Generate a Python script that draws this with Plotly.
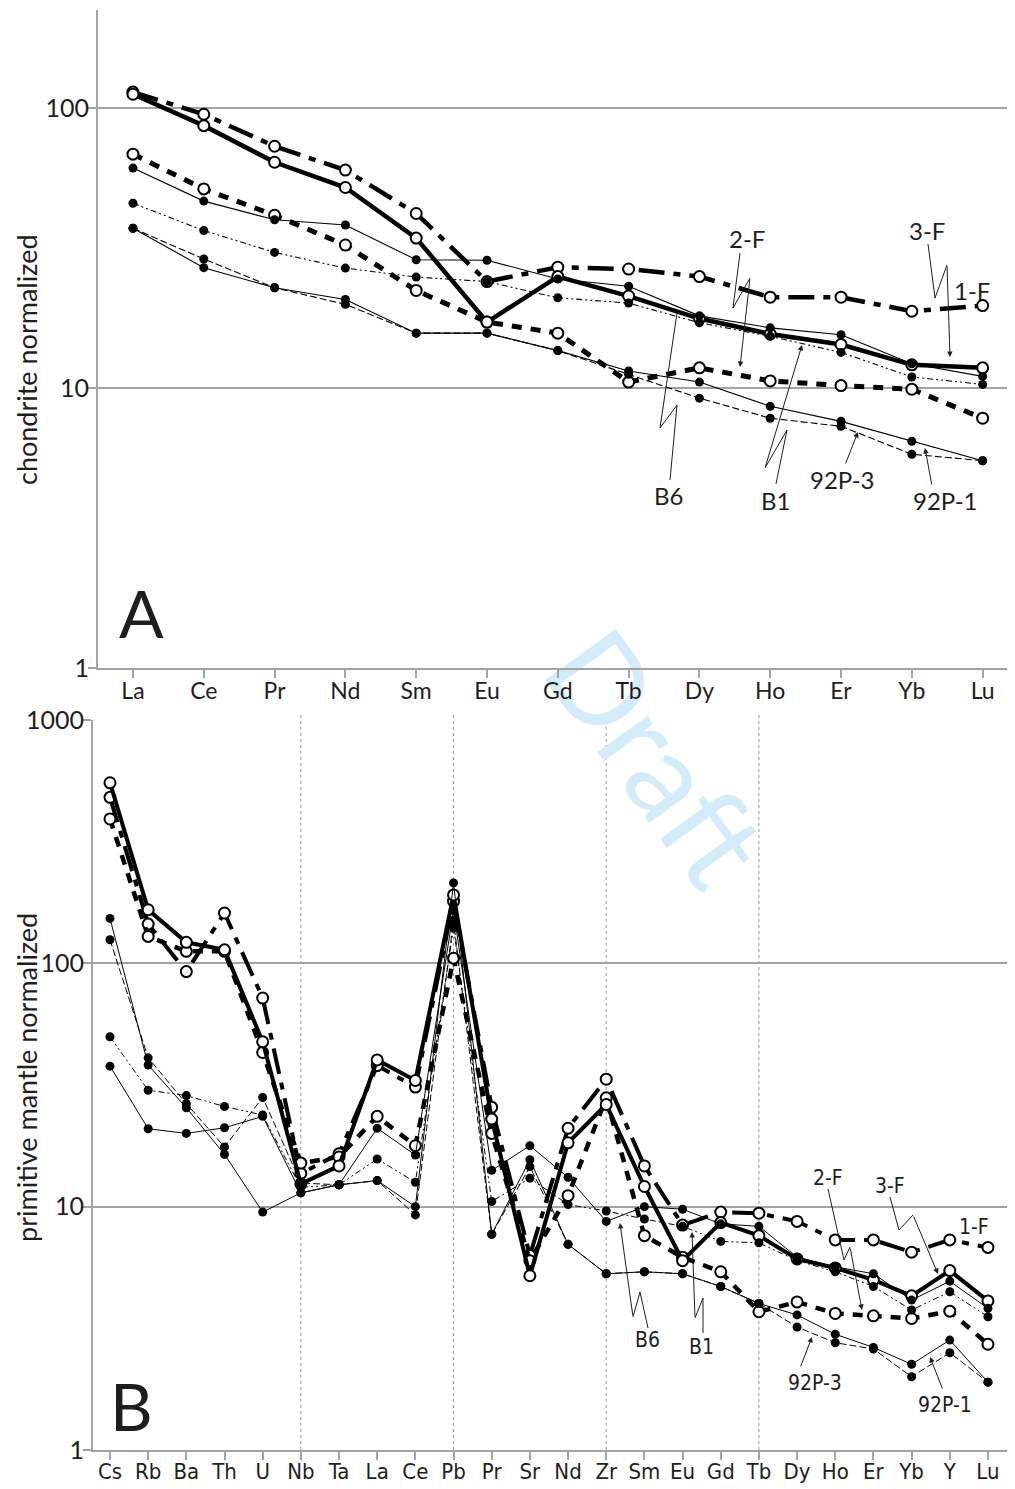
import plotly.graph_objects as go

# Target picture size and page offset of the plot div (browser body margin)
TW, TH = 1015, 1489
OFF = 8
W, H = TW - OFF, TH - OFF

# ---------------- DATA ----------------
ree = ['La', 'Ce', 'Pr', 'Nd', 'Sm', 'Eu', 'Gd', 'Tb', 'Dy', 'Ho', 'Er', 'Yb', 'Lu']
A_1F = [114, 95, 73, 60, 42, 24, 27, 26.6, 25, 21.1, 21.1, 18.8, 19.7]
A_3F = [112, 86.5, 64, 52, 34.3, 17.2, 25, 21.3, 17.7, 15.6, 14.3, 12.1, 11.8]
A_2F = [68.4, 51.4, 41.4, 32.4, 22.3, 17.2, 15.7, 10.5, 11.8, 10.6, 10.2, 9.9, 7.8]
A_B6 = [61, 46.5, 39.9, 38.2, 28.7, 28.6, 24.5, 23.1, 18.1, 16.4, 15.5, 12.2, 11.0]
A_B1 = [45.7, 36.5, 30.5, 26.8, 24.9, 24.0, 21.0, 20.1, 17.1, 15.3, 13.4, 10.95, 10.3]
A_92P1 = [37.2, 26.9, 22.8, 20.7, 15.7, 15.7, 13.6, 11.5, 10.5, 8.6, 7.6, 6.45, 5.5]
A_92P3 = [37.2, 28.9, 22.8, 19.9, 15.7, 15.7, 13.6, 11.2, 9.2, 7.8, 7.3, 5.8, 5.5]

spider = ['Cs', 'Rb', 'Ba', 'Th', 'U', 'Nb', 'Ta', 'La', 'Ce', 'Pb', 'Pr', 'Sr',
          'Nd', 'Zr', 'Sm', 'Eu', 'Gd', 'Tb', 'Dy', 'Ho', 'Er', 'Yb', 'Y', 'Lu']
B_1F = [481, 145, 92.5, 161, 72, 13.7, 16.5, 38, 31, 180, 25.6, 6.3,
        21, 33.4, 14.7, 8.4, 9.5, 9.4, 8.7, 7.3, 7.3, 6.5, 7.3, 6.8]
B_3F = [552, 166, 122, 113.6, 47.6, 12.4, 14.7, 40.1, 33, 191, 22.9, 5.2,
        18.3, 26.3, 12.1, 6.0, 8.6, 7.6, 6.1, 5.6, 5.0, 4.3, 5.46, 4.1]
B_2F = [392, 129, 112, 112, 43, 15.1, 16, 23.5, 17.8, 105, 20, 6.0,
        11.1, 28, 7.6, 6.2, 5.4, 3.7, 4.06, 3.64, 3.56, 3.47, 3.72, 2.72]
B_B6 = [37.8, 20.9, 20.0, 21.1, 23.5, 11.4, 12.3, 21, 16.3, 165, 14.1, 17.8,
        13.2, 8.7, 10.0, 9.76, 8.5, 8.3, 6.2, 5.66, 5.3, 4.13, 4.94, 3.82]
B_B1 = [49.9, 30.1, 28.6, 25.8, 23.8, 12.0, 12.3, 15.7, 12.6, 140, 10.5, 13.1,
        10.2, 9.6, 8.9, 8.3, 7.2, 7.1, 6.0, 5.4, 4.7, 3.76, 4.47, 3.53]
B_92P1 = [153, 38.2, 25.5, 16.4, 9.5, 11.4, 12.3, 12.8, 10.0, 214, 7.7, 15.6,
          7.0, 5.3, 5.4, 5.3, 4.7, 4.0, 3.59, 2.99, 2.64, 2.25, 2.83, 1.9]
B_92P3 = [125, 40.9, 26.5, 17.6, 28.1, 12.5, 12.3, 12.8, 9.25, 150, 7.7, 14.6,
          7.0, 5.3, 5.4, 5.3, 4.7, 4.0, 3.2, 2.76, 2.6, 2.0, 2.51, 1.9]

divider_elements = ['Nb', 'Pb', 'Zr', 'Tb']

# ---------------- STYLES ----------------
GRAY = '#a3a3a3'
INK = '#1e1e1e'
CAL = 'Lato, Carlito, Calibri, sans-serif'
NARROW = 'Liberation Sans Narrow, Arial Narrow, DejaVu Sans Condensed, sans-serif'

styles = {
    '1-F': dict(width=4.5, dash='26px,9px,7px,9px', hollow=True),
    '3-F': dict(width=4.5, dash='solid', hollow=True),
    '2-F': dict(width=5, dash='10px,9px', hollow=True),
    'B6': dict(width=1.1, dash='solid', hollow=False),
    'B1': dict(width=1.1, dash='6px,3px,2px,3px,2px,3px', hollow=False),
    '92P-1': dict(width=1.1, dash='solid', hollow=False),
    '92P-3': dict(width=1.1, dash='7px,3px', hollow=False),
}

seriesA = [('1-F', A_1F), ('2-F', A_2F), ('3-F', A_3F), ('B6', A_B6),
           ('B1', A_B1), ('92P-1', A_92P1), ('92P-3', A_92P3)]
seriesB = [('1-F', B_1F), ('2-F', B_2F), ('3-F', B_3F), ('B6', B_B6),
           ('B1', B_B1), ('92P-1', B_92P1), ('92P-3', B_92P3)]


def px(x):
    return (x - OFF) / W


def py(y):
    return 1 - (y - OFF) / H


fig = go.Figure()


def add_series(name, vals, cats, xa, ya, scale=1.0):
    st = styles[name]
    if st['hollow']:
        marker = dict(symbol='circle', size=11, color='white',
                      line=dict(color='black', width=2))
    else:
        marker = dict(symbol='circle', size=9, color='black',
                      line=dict(color='black', width=0))
    fig.add_trace(go.Scatter(
        x=list(range(len(cats))), y=vals, mode='lines+markers', name=name,
        line=dict(color='black', width=st['width'] * scale, dash=st['dash']),
        marker=marker, xaxis=xa, yaxis=ya, showlegend=False,
        hovertext=cats))


for name, vals in seriesA:
    add_series(name, vals, ree, 'x', 'y')
for name, vals in seriesB:
    add_series(name, vals, spider, 'x2', 'y2', scale=0.9)

axis_common = dict(showline=True, linecolor=GRAY, linewidth=2, ticks='outside',
                   tickcolor=GRAY, tickwidth=2, ticklen=8, zeroline=False,
                   automargin=False)

fig.update_layout(
    template='none',
    width=W, height=H, autosize=False, margin=dict(l=0, r=0, t=0, b=0, pad=0),
    paper_bgcolor='white', plot_bgcolor='rgba(0,0,0,0)', showlegend=False,
    xaxis=dict(domain=[px(98), 1.0], range=[-0.494, 12.457], anchor='y',
               tickmode='array', tickvals=list(range(len(ree))), ticktext=ree,
               showgrid=False, tickfont=dict(family=CAL, size=23, color=INK),
               ticklabelstandoff=-7, **axis_common),
    yaxis=dict(domain=[py(668), py(10)], type='log', range=[0, 2.35], anchor='x',
               tickmode='array', tickvals=[1, 10, 100], ticktext=['1', '10', '100'],
               showgrid=True, gridcolor=GRAY, gridwidth=2, ticklabelstandoff=-6,
               tickfont=dict(family=CAL, size=25, color=INK), **axis_common),
    xaxis2=dict(domain=[px(93), px(1012)], range=[-0.445, 23.63], anchor='y2',
                tickmode='array', tickvals=list(range(len(spider))), ticktext=spider,
                showgrid=False, tickfont=dict(family=NARROW, size=22, color=INK),
                ticklabelstandoff=-7, **axis_common),
    yaxis2=dict(domain=[py(1450), py(720)], type='log', range=[0, 3], anchor='x2',
                tickmode='array', tickvals=[1, 10, 100, 1000],
                ticktext=['1', '10', '100', '1000'], ticklabelstandoff=-6,
                showgrid=True, gridcolor=GRAY, gridwidth=2,
                tickfont=dict(family=CAL, size=25, color=INK), **axis_common),
)

shapes = []
# dotted dividers in panel B
for el in divider_elements:
    i = spider.index(el)
    shapes.append(dict(type='line', xref='x2', yref='paper', x0=i, x1=i,
                       y0=py(1450), y1=py(714),
                       line=dict(color='#9a9a9a', width=1, dash='dot'),
                       layer='below'))

# watermark
shapes.append(dict(type='rect', xref='paper', yref='paper',
                   x0=px(565), x1=px(755), y0=py(850), y1=py(660),
                   line=dict(width=0), fillcolor='rgba(0,0,0,0)', layer='below',
                   label=dict(text='Draft', textangle=54, textposition='middle center',
                              font=dict(family=CAL, size=122, color='#d3ecfa'))))

annotations = []


def leader(points, arrow=True):
    pts = points[:-1] if arrow else points
    if len(pts) >= 2:
        path = 'M ' + ' L '.join(f'{px(x):.5f},{py(y):.5f}' for x, y in pts)
        shapes.append(dict(type='path', xref='paper', yref='paper', path=path,
                           line=dict(color=INK, width=1)))
    if arrow:
        (tx0, ty0), (tx, ty) = points[-2], points[-1]
        annotations.append(dict(xref='paper', yref='paper', x=px(tx), y=py(ty),
                                ax=tx0 - tx, ay=ty0 - ty, text='', showarrow=True,
                                arrowhead=2, arrowsize=1.1, arrowwidth=1,
                                arrowcolor=INK, standoff=0))


def label(text, x, y, font, size, angle=0):
    annotations.append(dict(xref='paper', yref='paper', x=px(x), y=py(y), text=text,
                            showarrow=False, xanchor='center', yanchor='middle',
                            textangle=angle,
                            font=dict(family=font, size=size, color=INK)))


# Panel A labels
label('2-F', 747, 238, CAL, 24)
label('3-F', 927, 230, CAL, 24)
label('1-F', 972, 291, CAL, 24)
label('B6', 668, 495, CAL, 24)
label('B1', 775, 500, CAL, 24)
label('92P-3', 842, 480, CAL, 24)
label('92P-1', 945, 500, CAL, 24)
leader([(740, 253), (733, 308), (750, 278), (740, 367)])
leader([(928, 244), (935, 298), (947, 265), (950, 357)])
leader([(670, 480), (677, 405), (660, 428), (677, 313)], arrow=False)
leader([(776, 484), (787, 430), (765, 468), (802, 345)])
leader([(845, 465), (858, 432)])
leader([(932, 486), (925, 448)])

# Panel B labels
label('2-F', 828, 1178, NARROW, 21)
label('3-F', 890, 1186, NARROW, 21)
label('1-F', 974, 1227, NARROW, 21)
label('B6', 647, 1340, NARROW, 21)
label('B1', 701, 1347, NARROW, 21)
label('92P-3', 815, 1383, NARROW, 21)
label('92P-1', 945, 1405, NARROW, 21)
leader([(828, 1189), (844, 1260), (850, 1247), (862, 1310)])
leader([(890, 1197), (899, 1230), (913, 1215), (938, 1274)])
leader([(648, 1328), (640, 1292), (633, 1317), (620, 1223)])
leader([(703, 1333), (703, 1298), (695, 1318), (692, 1232)])
leader([(800, 1368), (812, 1337)])
leader([(943, 1390), (930, 1357)])

# Axis titles and panel letters
label('chondrite normalized', 26, 360, CAL, 27, angle=-90)
label('primitive mantle normalized', 26, 1078, CAL, 27, angle=-90)
label('A', 141, 612, CAL, 66)
label('B', 131, 1405, CAL, 66)

fig.update_layout(shapes=shapes, annotations=annotations)
fig.write_html('out.html')
